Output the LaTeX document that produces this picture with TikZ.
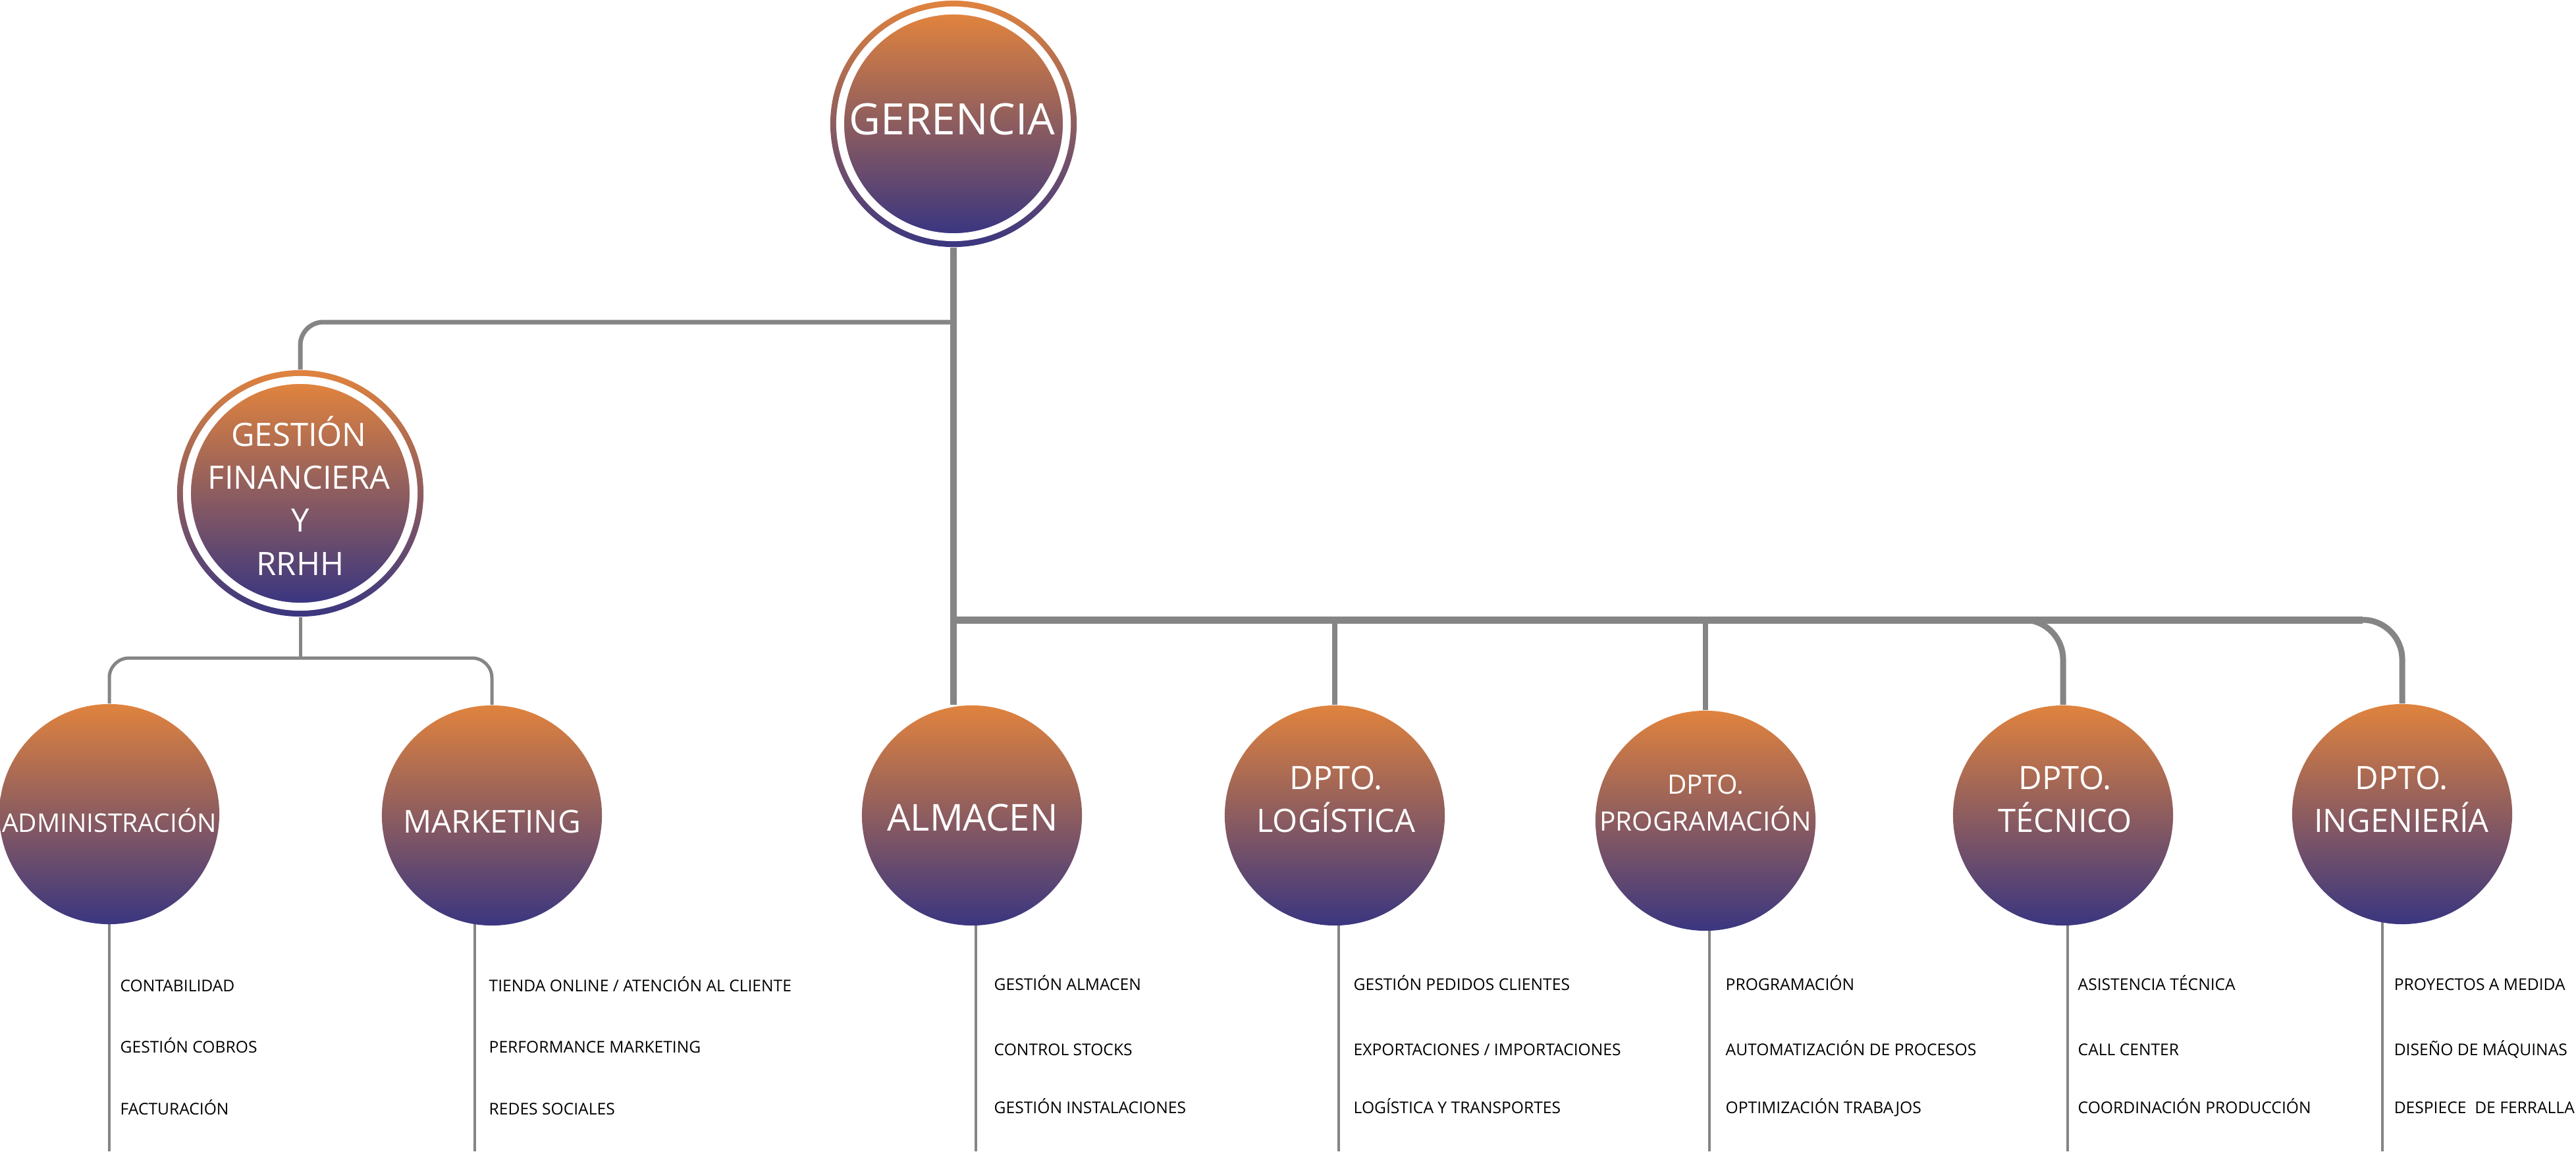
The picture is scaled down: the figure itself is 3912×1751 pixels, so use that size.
\documentclass[tikz,border=0pt]{standalone}
\usepackage{fontspec}
\setmainfont{Open Sans}
\usetikzlibrary{calc}
\definecolor{gtop}{HTML}{E0833E}
\definecolor{gbot}{HTML}{3A3680}
\definecolor{lgray}{HTML}{858585}
\pgfdeclarelayer{bg}
\pgfsetlayers{bg,main}
\begin{document}
\begin{tikzpicture}[x=0.01cm,y=-0.01cm,
  grad/.style={shading=axis,top color=gtop,bottom color=gbot},
  bigc/.style={circle,grad,minimum size=3.74cm,inner sep=0pt},
  deptc/.style={circle,grad,minimum size=3.34cm,inner sep=0pt},
  wlbl/.style={text=white,inner sep=0pt,anchor=base},
  lstt/.style={text=black,inner sep=0pt,anchor=base west,font=\fontsize{7}{8}\selectfont},
  cline/.style={draw=lgray,line cap=butt},
  lstl/.style={cline,line width=0.045cm}
]
\useasboundingbox (0,0) rectangle (3912,1751);

% ---- circles
\node[bigc] (ger) at (1448,188) {};
\shade[grad] (ger.center) circle (1.66cm);
\draw[white,line width=0.12cm] (ger.center) circle (1.72cm);
\node[bigc] (gf) at (456,749) {};
\shade[grad] (gf.center) circle (1.66cm);
\draw[white,line width=0.12cm] (gf.center) circle (1.72cm);

\node[deptc] (adm) at (166,1236) {};
\node[deptc] (mkt) at (747,1238) {};
\node[deptc] (alm) at (1476,1238) {};
\node[deptc] (log) at (2027,1238) {};
\node[deptc] (prog) at (2590,1246) {};
\node[deptc] (tec) at (3133,1238) {};
\node[deptc] (ing) at (3648,1236) {};

% ---- circle labels
\node[wlbl,font=\fontsize{18.7}{22}\selectfont] (gerT) at (1446,204) {GERENCIA};
\node[wlbl,font=\fontsize{13.9}{16}\selectfont] (gf1) at (454,677) {GESTIÓN};
\node[wlbl,font=\fontsize{13.9}{16}\selectfont] (gf2) at (454,742) {FINANCIERA};
\node[wlbl,font=\fontsize{13.9}{16}\selectfont] (gf3) at (456,807) {Y};
\node[wlbl,font=\fontsize{13.9}{16}\selectfont] (gf4) at (456,873) {RRHH};

\node[wlbl,font=\fontsize{11.1}{13}\selectfont] (admT) at (166,1263) {ADMINISTRACIÓN};
\node[wlbl,font=\fontsize{13.6}{16}\selectfont] (mktT) at (747,1264) {MARKETING};
\node[wlbl,font=\fontsize{16}{19}\selectfont] (almT) at (1477,1261) {ALMACEN};
\node[wlbl,font=\fontsize{13.9}{16}\selectfont] (log1) at (2029,1198) {DPTO.};
\node[wlbl,font=\fontsize{13.9}{16}\selectfont] (log2) at (2029,1263) {LOGÍSTICA};
\node[wlbl,font=\fontsize{11.5}{14}\selectfont] (prog1) at (2590,1205) {DPTO.};
\node[wlbl,font=\fontsize{11.5}{14}\selectfont] (prog2) at (2590,1261) {PROGRAMACIÓN};
\node[wlbl,font=\fontsize{13.9}{16}\selectfont] (tec1) at (3136,1198) {DPTO.};
\node[wlbl,font=\fontsize{13.9}{16}\selectfont] (tec2) at (3136,1263) {TÉCNICO};
\node[wlbl,font=\fontsize{13.9}{16}\selectfont] (ing1) at (3647,1198) {DPTO.};
\node[wlbl,font=\fontsize{13.9}{16}\selectfont] (ing2) at (3647,1263) {INGENIERÍA};

% ---- list texts
\node[lstt] (a1) at (182,1505) {CONTABILIDAD};
\node[lstt] (a2) at (182,1598) {GESTIÓN COBROS};
\node[lstt] (a3) at (182,1692) {FACTURACIÓN};
\node[lstt] (m1) at (742,1505) {TIENDA ONLINE / ATENCIÓN AL CLIENTE};
\node[lstt] (m2) at (742,1598) {PERFORMANCE MARKETING};
\node[lstt] (m3) at (742,1692) {REDES SOCIALES};
\node[lstt] (al1) at (1509,1503) {GESTIÓN ALMACEN};
\node[lstt] (al2) at (1509,1602) {CONTROL STOCKS};
\node[lstt] (al3) at (1509,1690) {GESTIÓN INSTALACIONES};
\node[lstt] (l1) at (2055,1503) {GESTIÓN PEDIDOS CLIENTES};
\node[lstt] (l2) at (2055,1602) {EXPORTACIONES / IMPORTACIONES};
\node[lstt] (l3) at (2055,1690) {LOGÍSTICA Y TRANSPORTES};
\node[lstt] (p1) at (2620,1503) {PROGRAMACIÓN};
\node[lstt] (p2) at (2620,1602) {AUTOMATIZACIÓN DE PROCESOS};
\node[lstt] (p3) at (2620,1690) {OPTIMIZACIÓN TRABAJOS};
\node[lstt] (t1) at (3155,1503) {ASISTENCIA TÉCNICA};
\node[lstt] (t2) at (3155,1602) {CALL CENTER};
\node[lstt] (t3) at (3155,1690) {COORDINACIÓN PRODUCCIÓN};
\node[lstt] (i1) at (3635,1503) {PROYECTOS A MEDIDA};
\node[lstt] (i2) at (3635,1602) {DISEÑO DE MÁQUINAS};
\node[lstt] (i3) at (3635,1690) {DESPIECE\ \ DE FERRALLA};

% ---- connectors
\coordinate (j1) at (1448,489);
\coordinate (j2) at (1448,941);
\coordinate (sb) at (456,999);
\coordinate (bot) at (0,1748);

\begin{pgfonlayer}{bg}
\draw[cline,line width=0.1cm] (ger.south) -- (ger.south |- alm.north);
\draw[cline,line width=0.07cm,rounded corners=0.35cm] (gf.north) |- (j1);
\draw[cline,line width=0.05cm] (gf.south) -- (sb);
\draw[cline,line width=0.05cm,rounded corners=0.3cm] (adm.north) |- (sb) -| (mkt.north);
\draw[cline,line width=0.11cm] (j2) -- ($(ing.north |- j2)+(-60,0)$);
\draw[cline,line width=0.08cm] (log.north) -- (log.north |- j2);
\draw[cline,line width=0.08cm] (prog.north) -- (prog.north |- j2);
\draw[cline,line width=0.09cm,rounded corners=0.6cm] ($(tec.north |- j2)+(-60,0)$) -| (tec.north);
\draw[cline,line width=0.09cm,rounded corners=0.6cm] ($(ing.north |- j2)+(-62,0)$) -| (ing.north);

\draw[lstl] ($(adm.south)+(0,-8)$) -- (adm.south |- bot);
\draw[lstl] ($(mkt.south)+(-26,-8)$) -- ($(mkt.south |- bot)+(-26,0)$);
\draw[lstl] ($(alm.south)+(6,-8)$) -- ($(alm.south |- bot)+(6,0)$);
\draw[lstl] ($(log.south)+(6,-8)$) -- ($(log.south |- bot)+(6,0)$);
\draw[lstl] ($(prog.south)+(6,-8)$) -- ($(prog.south |- bot)+(6,0)$);
\draw[lstl] ($(tec.south)+(7,-8)$) -- ($(tec.south |- bot)+(7,0)$);
\draw[lstl] ($(ing.south)+(-30,-8)$) -- ($(ing.south |- bot)+(-30,0)$);
\end{pgfonlayer}
\end{tikzpicture}
\end{document}
